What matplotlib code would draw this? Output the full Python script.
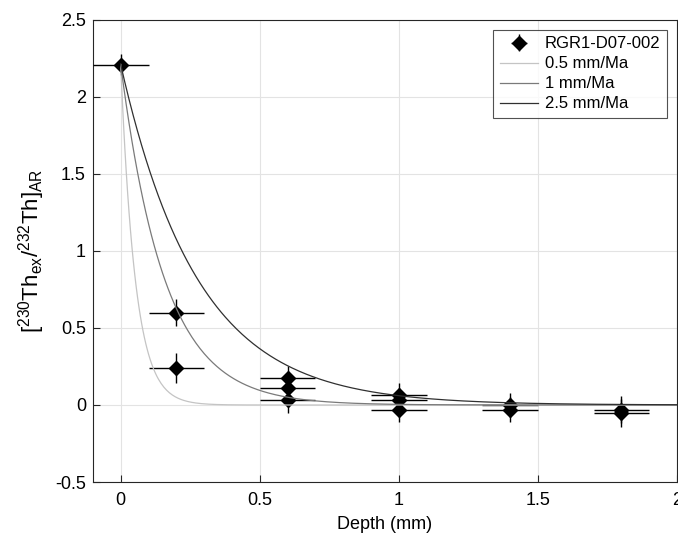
import matplotlib.pyplot as plt
import numpy as np

plt.rcParams['font.family'] = ['Liberation Sans', 'DejaVu Sans']
plt.rcParams['mathtext.fontset'] = 'custom'
plt.rcParams['mathtext.rm'] = 'Liberation Sans'
plt.rcParams['mathtext.it'] = 'Liberation Sans'

# measured activity ratios vs depth
depth = [0.0, 0.2, 0.2, 0.6, 0.6, 0.6, 1.0, 1.0, 1.0, 1.4, 1.4, 1.8, 1.8]
ratio = [2.21, 0.60, 0.24, 0.175, 0.11, 0.03, 0.065, 0.03, -0.03, 0.0, -0.03, -0.03, -0.05]
depth_err = [0.1] * len(depth)
ratio_err = [0.07, 0.09, 0.10, 0.08, 0.08, 0.08, 0.08, 0.08, 0.08, 0.08, 0.08, 0.09, 0.09]

# model decay curves (initial ratio and decay per mm)
a0 = 2.21
rate_labels = ['0.5 mm/Ma', '1 mm/Ma', '2.5 mm/Ma']
decay_per_mm = [19.0, 6.3, 3.6]
curve_colors = ['#c4c4c4', '#7a7a7a', '#303030']

fig = plt.figure(figsize=(6.78, 5.36), dpi=100)
ax = fig.add_axes([0.137, 0.1007, 0.8615, 0.8623])

ax.errorbar(depth, ratio, xerr=depth_err, yerr=ratio_err, fmt='D', color='black',
            ms=7, elinewidth=1.0, capsize=0, label='RGR1-D07-002', zorder=3)

x = np.linspace(0, 2, 400)
for lab, k, c in zip(rate_labels, decay_per_mm, curve_colors):
    ax.plot(x, a0 * np.exp(-k * x), color=c, lw=0.9, label=lab, zorder=4)

ax.set_xlim(-0.1, 2)
ax.set_ylim(-0.5, 2.5)
ax.set_xticks([0, 0.5, 1, 1.5, 2])
ax.set_xticklabels(['0', '0.5', '1', '1.5', '2'])
ax.set_yticks([-0.5, 0, 0.5, 1, 1.5, 2, 2.5])
ax.set_yticklabels(['-0.5', '0', '0.5', '1', '1.5', '2', '2.5'])
ax.tick_params(direction='in', labelsize=13, length=5, color='#262626')
ax.tick_params(axis='x', pad=7)
ax.tick_params(axis='y', pad=5)
ax.grid(True, color='#e3e3e3', lw=0.8)
ax.set_axisbelow(True)
for s in ax.spines.values():
    s.set_color('#262626')
    s.set_linewidth(0.8)

ax.set_xlabel('Depth (mm)', fontsize=13, labelpad=5)
ax.set_ylabel(r'[$^{230}$Th$_{\mathrm{ex}}$/$^{232}$Th]$_{\mathrm{AR}}$', fontsize=16, labelpad=6)

handles, labels = ax.get_legend_handles_labels()
order = [labels.index('RGR1-D07-002')] + [labels.index(l) for l in rate_labels]
leg = ax.legend([handles[i] for i in order], [labels[i] for i in order],
                loc='upper right', fontsize=12, frameon=True, fancybox=False,
                edgecolor='#262626', borderaxespad=0.6, handlelength=2.3,
                labelspacing=0.3, borderpad=0.4, handletextpad=0.4)
leg.get_frame().set_linewidth(0.8)

fig.savefig('out.png', dpi=100)
